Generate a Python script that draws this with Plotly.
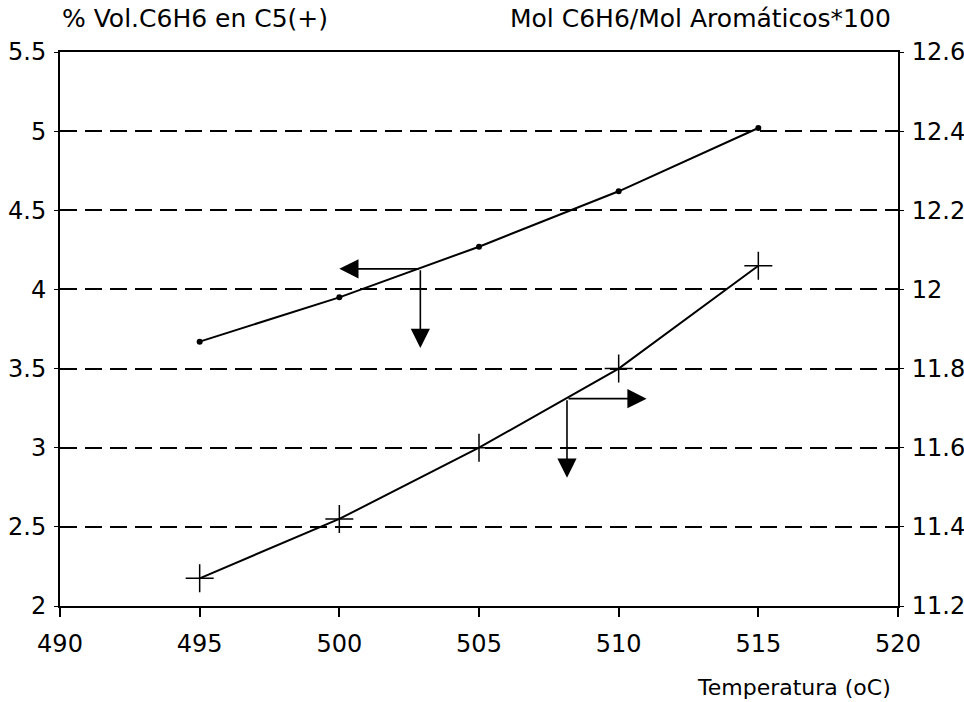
import plotly.graph_objects as go

# ---- data ----
temperatura = [495, 500, 505, 510, 515]
vol_c6h6 = [3.67, 3.95, 4.27, 4.62, 5.02]          # left axis
mol_c6h6 = [11.27, 11.42, 11.60, 11.80, 12.06]      # right axis

x_ticks = [490, 495, 500, 505, 510, 515, 520]
y_left_ticks = [2, 2.5, 3, 3.5, 4, 4.5, 5, 5.5]
y_left_text = ["2", "2.5", "3", "3.5", "4", "4.5", "5", "5.5"]
y_right_ticks = [11.2, 11.4, 11.6, 11.8, 12.0, 12.2, 12.4, 12.6]
y_right_text = ["11.2", "11.4", "11.6", "11.8", "12", "12.2", "12.4", "12.6"]

# arrow indicators (left-axis units): junction, left tip, down tip
arrow1_junction = (502.9, 4.13)
arrow1_left_tip_x = 500.0
arrow1_down_tip_y = 3.63
arrow2_junction = (508.15, 3.31)
arrow2_right_tip_x = 511.0
arrow2_down_tip_y = 2.81

FONT = "DejaVu Sans"
W, H = 964, 702
ML, MR, MT, MB = 60, 66, 52, 96
plot_h = H - MT - MB

fig = go.Figure()
fig.add_trace(go.Scatter(
    x=temperatura, y=vol_c6h6, mode="lines+markers",
    line=dict(color="black", width=2),
    marker=dict(symbol="circle", size=6, color="black"),
    showlegend=False))
fig.add_trace(go.Scatter(
    x=temperatura, y=mol_c6h6, mode="lines+markers", yaxis="y2",
    line=dict(color="black", width=2),
    marker=dict(symbol="cross-thin", size=20, line=dict(color="black", width=1.5)),
    showlegend=False))

def arrow(x, y, ax, ay):
    return dict(x=x, y=y, ax=ax, ay=ay, xref="x", yref="y", axref="x", ayref="y",
                showarrow=True, arrowhead=2, arrowsize=2.4, arrowwidth=1.6,
                arrowcolor="black", text="")

annotations = [
    arrow(arrow1_left_tip_x, arrow1_junction[1], *arrow1_junction),
    arrow(arrow1_junction[0], arrow1_down_tip_y, *arrow1_junction),
    arrow(arrow2_right_tip_x, arrow2_junction[1], *arrow2_junction),
    arrow(arrow2_junction[0], arrow2_down_tip_y, *arrow2_junction),
    dict(text="% Vol.C6H6 en C5(+)", x=0, xref="paper", xanchor="left",
         y=1 + (MT - 18) / plot_h, yref="paper", yanchor="middle",
         showarrow=False, font=dict(family=FONT, size=25, color="black")),
    dict(text="Mol C6H6/Mol Aromáticos*100", x=1, xref="paper", xanchor="right", xshift=-5,
         y=1 + (MT - 18) / plot_h, yref="paper", yanchor="middle",
         showarrow=False, font=dict(family=FONT, size=25, color="black")),
    dict(text="Temperatura (oC)", x=1, xref="paper", xanchor="right", xshift=-5,
         y=-(688 - (H - MB)) / plot_h, yref="paper", yanchor="middle",
         showarrow=False, font=dict(family=FONT, size=22, color="black")),
]

fig.update_layout(
    width=W, height=H,
    margin=dict(l=ML, r=MR, t=MT, b=MB, pad=0, autoexpand=False),
    paper_bgcolor="white", plot_bgcolor="white",
    font=dict(family=FONT, size=24, color="black"),
    xaxis=dict(range=[490, 520], tickvals=x_ticks, ticks="outside", ticklen=9,
               tickwidth=1.5, tickcolor="black", showline=True, linecolor="black",
               linewidth=2, mirror=True, showgrid=False, zeroline=False,
               ticklabelstandoff=6, automargin=False),
    yaxis=dict(range=[2, 5.5], tickvals=y_left_ticks, ticktext=y_left_text,
               ticks="outside", ticklen=4, tickcolor="black", showline=True,
               linecolor="black", linewidth=2, showgrid=True, gridcolor="black",
               gridwidth=1.5, griddash="17px,8px", zeroline=False,
               ticklabelstandoff=3, automargin=False),
    yaxis2=dict(range=[11.2, 12.6], tickvals=y_right_ticks, ticktext=y_right_text,
                overlaying="y", side="right", ticks="outside", ticklen=4,
                tickcolor="black", showline=True, linecolor="black", linewidth=2,
                showgrid=False, zeroline=False, ticklabelstandoff=3,
                automargin=False),
    annotations=annotations,
)

fig.write_html("out.html")
